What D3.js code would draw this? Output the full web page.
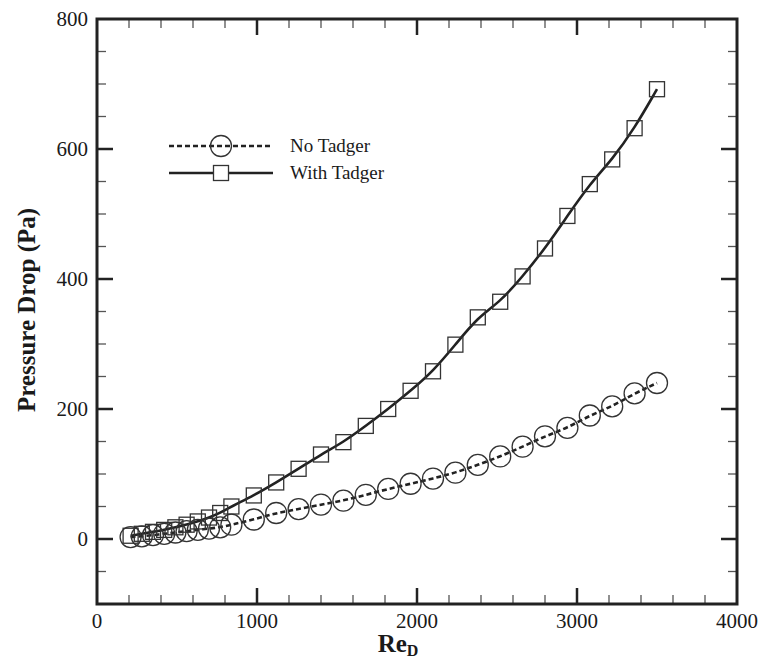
<!DOCTYPE html>
<html>
<head>
<meta charset="utf-8">
<title>Pressure Drop</title>
<script src="https://d3js.org/d3.v7.min.js"></script>
<style>
  body { margin: 0; background: #fff; }
  text { font-family: "Liberation Serif", "Times New Roman", serif; fill: #1a1a1a; }
</style>
</head>
<body>
<svg width="760" height="663"></svg>
<script>
// data
var reD = [210, 280, 350, 420, 490, 560, 630, 700, 770, 840, 980, 1120, 1260, 1400, 1540,
           1680, 1820, 1960, 2100, 2240, 2380, 2520, 2660, 2800, 2940, 3080, 3220, 3360, 3500];
var noTadger = [3, 4, 6, 8, 10, 12, 14, 16, 18, 22, 30, 40, 46, 53, 59,
                68, 77, 85, 93, 102, 114, 127, 142, 158, 171, 190, 204, 224, 240];
var withTadger = [5, 8, 11, 14, 18, 22, 27, 33, 40, 50, 67, 87, 108, 130, 149,
                  174, 200, 228, 258, 299, 341, 365, 404, 447, 497, 546, 584, 632, 692];
var xTicks = [0, 1000, 2000, 3000, 4000];
var yTicks = [0, 200, 400, 600, 800];
var seriesNames = ["No Tadger", "With Tadger"];

var svg = d3.select("svg");
// plot box (note: "top" is a reserved window prop, so use pTop etc.)
var pLeft = 97, pRight = 737, pTop = 19, pBottom = 604;

var x = d3.scaleLinear().domain([0, 4000]).range([pLeft, pRight]);
var y = d3.scaleLinear().domain([-100, 800]).range([pBottom, pTop]);

var ink = "#222";

// ticks (inward, on all four sides)
var xMinor = d3.range(0, 4001, 200).filter(v => xTicks.indexOf(v) < 0);
var yMinor = d3.range(-100, 801, 50).filter(v => yTicks.indexOf(v) < 0);

function tickSet(vals, len, w, col) {
  var g = svg.append("g").attr("stroke", col).attr("stroke-width", w);
  vals.forEach(function(v) {
    if (v > 0 && v < 4000) {
      g.append("line").attr("x1", x(v)).attr("x2", x(v)).attr("y1", pBottom).attr("y2", pBottom - len);
      g.append("line").attr("x1", x(v)).attr("x2", x(v)).attr("y1", pTop).attr("y2", pTop + len);
    }
  });
}
function tickSetY(vals, len, w, col) {
  var g = svg.append("g").attr("stroke", col).attr("stroke-width", w);
  vals.forEach(function(v) {
    if (v > -100 && v < 800) {
      g.append("line").attr("y1", y(v)).attr("y2", y(v)).attr("x1", pLeft).attr("x2", pLeft + len);
      g.append("line").attr("y1", y(v)).attr("y2", y(v)).attr("x1", pRight).attr("x2", pRight - len);
    }
  });
}
tickSet(xMinor, 9, 1.3, "#555");
tickSetY(yMinor, 9, 1.3, "#555");
tickSet(xTicks, 16, 2.5, ink);
tickSetY(yTicks, 16, 2.5, ink);

// frame
svg.append("rect")
  .attr("x", pLeft).attr("y", pTop)
  .attr("width", pRight - pLeft).attr("height", pBottom - pTop)
  .attr("fill", "none").attr("stroke", ink).attr("stroke-width", 3);

// tick labels
svg.selectAll(".xl").data(xTicks).enter().append("text")
  .attr("x", d => x(d)).attr("y", 628)
  .attr("text-anchor", "middle").attr("font-size", 21)
  .text(d => d);
svg.selectAll(".yl").data(yTicks).enter().append("text")
  .attr("x", 88).attr("y", d => y(d) + 7)
  .attr("text-anchor", "end").attr("font-size", 21)
  .text(d => d);

// axis titles
var xt = svg.append("text")
  .attr("x", 398).attr("y", 652)
  .attr("text-anchor", "middle").attr("font-size", 25).attr("font-weight", "bold");
xt.append("tspan").text("Re");
xt.append("tspan").attr("font-size", 16).attr("dy", 4).text("D");

svg.append("text")
  .attr("transform", "translate(35,310) rotate(-90)")
  .attr("text-anchor", "middle").attr("font-size", 25).attr("font-weight", "bold")
  .text("Pressure Drop (Pa)");

// lines
var pts1 = reD.map((r, i) => [r, noTadger[i]]);
var pts2 = reD.map((r, i) => [r, withTadger[i]]);
var line = d3.line().x(d => x(d[0])).y(d => y(d[1])).curve(d3.curveBasis);

svg.append("path").datum(pts1).attr("d", line)
  .attr("fill", "none").attr("stroke", ink).attr("stroke-width", 2.6)
  .attr("stroke-dasharray", "5,3");
svg.append("path").datum(pts2).attr("d", line)
  .attr("fill", "none").attr("stroke", ink).attr("stroke-width", 2.6);

// markers
var R = 10.5, S = 15;
svg.append("g").selectAll("circle").data(pts1).enter().append("circle")
  .attr("cx", d => x(d[0])).attr("cy", d => y(d[1])).attr("r", R)
  .attr("fill", "none").attr("stroke", "#333").attr("stroke-width", 1.3);
svg.append("g").selectAll("rect").data(pts2).enter().append("rect")
  .attr("x", d => x(d[0]) - S / 2).attr("y", d => y(d[1]) - S / 2)
  .attr("width", S).attr("height", S)
  .attr("fill", "none").attr("stroke", "#333").attr("stroke-width", 1.3);

// legend
var lg = svg.append("g");
var ly = [146, 173];
lg.append("line").attr("x1", 169).attr("x2", 273).attr("y1", ly[0]).attr("y2", ly[0])
  .attr("stroke", ink).attr("stroke-width", 2.6).attr("stroke-dasharray", "5,3");
lg.append("circle").attr("cx", 221).attr("cy", ly[0]).attr("r", 10.5)
  .attr("fill", "none").attr("stroke", "#333").attr("stroke-width", 1.3);
lg.append("line").attr("x1", 169).attr("x2", 273).attr("y1", ly[1]).attr("y2", ly[1])
  .attr("stroke", ink).attr("stroke-width", 2.6);
lg.append("rect").attr("x", 221 - 7.5).attr("y", ly[1] - 7.5).attr("width", 15).attr("height", 15)
  .attr("fill", "#fff").attr("stroke", "#333").attr("stroke-width", 1.3);
lg.selectAll("text").data(seriesNames).enter().append("text")
  .attr("x", 290).attr("y", (d, i) => ly[i] + 6)
  .attr("font-size", 19)
  .text(d => d);
</script>
</body>
</html>
